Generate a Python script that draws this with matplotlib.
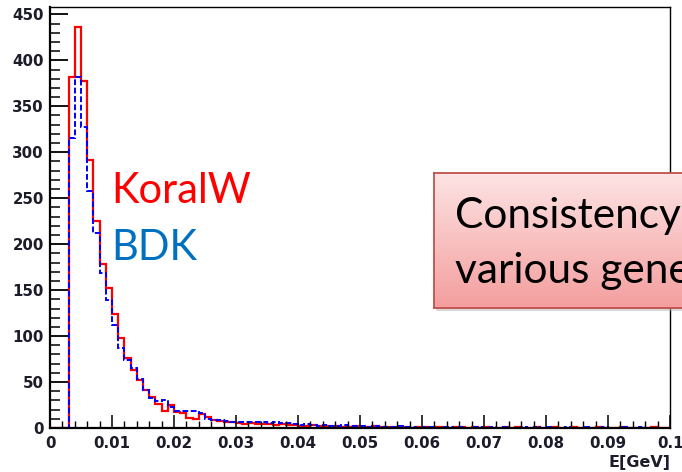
import numpy as np
import matplotlib.pyplot as plt
from matplotlib.patches import Rectangle
from matplotlib.ticker import MultipleLocator

# photon energy spectrum, 1 MeV bins from 0 to 0.1 GeV
bin_edges = np.linspace(0, 0.1, 101)

koralw = [0, 0, 0, 382, 436, 378, 292, 225, 178, 152,
          124, 98, 76, 63, 52, 41, 34, 26, 19, 25,
          17, 16, 11, 10, 15, 12, 9, 8, 6, 6,
          5, 4, 5, 4, 4, 4, 3, 4, 3, 3,
          2, 2, 3, 2, 2, 1, 2, 1, 1, 2,
          1, 1, 2, 1, 1, 1, 1, 1, 0, 1,
          1, 0, 1, 1, 0, 1, 1, 0, 1, 0,
          1, 0, 0, 1, 0, 1, 0, 0, 1, 0,
          0, 1, 0, 0, 1, 0, 0, 0, 1, 0,
          0, 0, 1, 0, 0, 0, 0, 1, 0, 0]

bdk = [0, 0, 0, 316, 382, 327, 258, 212, 169, 139,
       112, 87, 74, 65, 53, 41, 33, 29, 30, 23,
       19, 19, 18, 18, 16, 10, 9, 9, 8, 7,
       7, 6, 6, 6, 6, 5, 6, 5, 5, 4,
       3, 4, 3, 2, 3, 2, 2, 3, 2, 2,
       2, 1, 2, 1, 1, 1, 2, 1, 1, 0,
       1, 1, 0, 1, 1, 0, 1, 0, 1, 1,
       0, 1, 0, 1, 0, 0, 1, 0, 1, 0,
       1, 0, 0, 1, 0, 0, 1, 0, 0, 1,
       0, 0, 1, 0, 0, 1, 0, 0, 0, 0]

x_ticks = [0, 0.01, 0.02, 0.03, 0.04, 0.05, 0.06, 0.07, 0.08, 0.09, 0.1]
x_labels = ['0', '0.01', '0.02', '0.03', '0.04', '0.05', '0.06', '0.07', '0.08', '0.09', '0.1']
y_ticks = [0, 50, 100, 150, 200, 250, 300, 350, 400, 450]

W, H = 682, 472
fig = plt.figure(figsize=(W / 100, H / 100), dpi=100)
ax = fig.add_axes([50 / W, 44 / H, 620 / W, 421 / H])

ax.stairs(koralw, bin_edges, color='#ff0000', lw=1.6, baseline=0)
ax.stairs(bdk, bin_edges, color='#0000ff', lw=1.4, linestyle=(0, (3, 1.3)))

ax.set_xlim(0, 0.1)
ax.set_ylim(0, 458)

tick_font = dict(family='DejaVu Sans', weight='bold', size=10.8)
ax.set_xticks(x_ticks, x_labels, **tick_font, color='#1c1c2a')
ax.set_yticks(y_ticks, [str(v) for v in y_ticks], **tick_font, color='#1c1c2a')
ax.xaxis.set_minor_locator(MultipleLocator(0.002))
ax.yaxis.set_minor_locator(MultipleLocator(10))
ax.tick_params(axis='y', which='major', direction='in', length=13, width=1.3, pad=4.3)
ax.tick_params(axis='y', which='minor', direction='in', length=7, width=1.1)
ax.tick_params(axis='x', which='major', direction='in', length=9.5, width=1.1, pad=6)
ax.tick_params(axis='x', which='minor', direction='in', length=5, width=1.0)

for side in ['left', 'bottom']:
    ax.spines[side].set_linewidth(1.6)
for side in ['top', 'right']:
    ax.spines[side].set_linewidth(1.0)

ax.set_xlabel('E[GeV]', loc='right', fontfamily='DejaVu Sans', fontweight='bold',
              fontsize=11.5, color='#1c1c2a', labelpad=3)

# legend-like labels
fig.text(111 / W, 1 - 203 / H, 'KoralW', color='#ff0000', family='Lato',
         fontsize=30, va='baseline')
fig.text(111 / W, 1 - 260 / H, 'BDK', color='#0070c0', family='Lato',
         fontsize=30, va='baseline')

# pink note box, running off the right edge like in the slide
bx0, by0, bx1, by1 = 434, 173, 700, 308
shadow = Rectangle(((bx0 + 2) / W, 1 - (by1 + 3) / H), (bx1 - bx0) / W, (by1 - by0) / H,
                   transform=fig.transFigure, facecolor='#b0b0b0', edgecolor='none',
                   alpha=0.5, zorder=4)
fig.add_artist(shadow)
box_ax = fig.add_axes([bx0 / W, 1 - by1 / H, (bx1 - bx0) / W, (by1 - by0) / H])
box_ax.set_zorder(5)
top_col = np.array([253, 228, 228]) / 255
bot_col = np.array([244, 158, 158]) / 255
t = np.linspace(0, 1, 100)[:, None, None]
grad = top_col * (1 - t) + bot_col * t
box_ax.imshow(grad, extent=[0, 1, 0, 1], aspect='auto')
box_ax.set_xticks([])
box_ax.set_yticks([])
for sp in box_ax.spines.values():
    sp.set_color('#c0504d')
    sp.set_linewidth(1.3)

fig.text(455 / W, 1 - 228 / H, 'Consistency', color='black', family='Lato',
         fontsize=30.5, va='baseline', zorder=10)
fig.text(455 / W, 1 - 283 / H, 'various gene', color='black', family='Lato',
         fontsize=30.5, va='baseline', zorder=10)

fig.savefig('out.png', dpi=100)
